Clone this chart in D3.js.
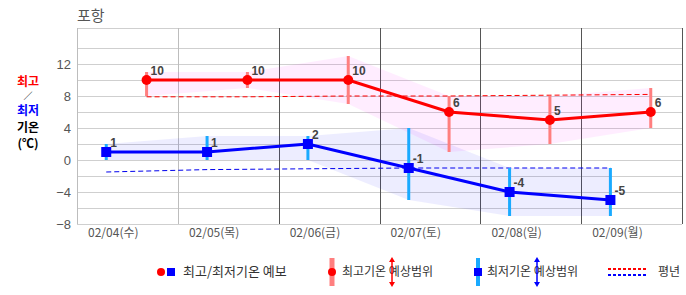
<!DOCTYPE html>
<html>
<head>
<meta charset="utf-8">
<script src="https://cdn.jsdelivr.net/npm/d3@7"></script>
<style>
  html, body { margin: 0; padding: 0; background: #fff; }
  svg { display: block; font-family: "Noto Sans CJK KR", "Noto Sans", sans-serif; }
</style>
</head>
<body>
<svg id="chart" width="686" height="295"></svg>
<script>
const dates = ["02/04(수)", "02/05(목)", "02/06(금)", "02/07(토)", "02/08(일)", "02/09(월)"];
const maxTemp = [10, 10, 10, 6, 5, 6];
const maxLow = [8, 9, 7, 1, 2, 4];
const maxHigh = [11, 11, 13, 8, 8, 9];
const minTemp = [1, 1, 2, -1, -4, -5];
const minLow = [0, 0, 0, -5, -7, -7];
const minHigh = [2, 3, 3, 4, -1, -1];
const maxNormal = [7.9, 7.9, 8, 8, 8.1, 8.2];
const minNormal = [-1.5, -1.2, -1.1, -1, -1, -1];
const yTicks = [-8, -4, 0, 4, 8, 12];

(() => {
    const margin = { top: 28, right: 4, bottom: 71, left: 77 };
    const width = 686, height = 295;
    const svg = d3.select("#chart");

    const x = d3.scaleBand().domain(dates).range([margin.left, width - margin.right]);
    const y = d3.scaleLinear().domain([-8, 16.5]).range([height - margin.bottom, margin.top]);
    const bw = x.bandwidth();
    const xMin = d => x(d) + bw * 0.29;   // 최저 위치
    const xMax = d => x(d) + bw * 0.69;   // 최고 위치

    const rows = dates.map((d, i) => ({
        date: d, max: maxTemp[i], maxLo: maxLow[i], maxHi: maxHigh[i],
        min: minTemp[i], minLo: minLow[i], minHi: minHigh[i],
        maxN: maxNormal[i], minN: minNormal[i]
    }));

    // 가로 격자
    svg.append("g").selectAll("line")
        .data(d3.range(-8, 16, 2).concat([16.5]))
        .join("line")
        .attr("x1", margin.left).attr("x2", width - margin.right)
        .attr("y1", d => Math.round(y(d)) + 0.5).attr("y2", d => Math.round(y(d)) + 0.5)
        .attr("stroke", "#cfcfcf");

    // 세로 격자
    const vlines = dates.map(d => x(d)).concat([width - margin.right]);
    svg.append("g").selectAll("line")
        .data(vlines)
        .join("line")
        .attr("x1", d => Math.round(d) + 0.5).attr("x2", d => Math.round(d) + 0.5)
        .attr("y1", margin.top).attr("y2", height - margin.bottom)
        .attr("stroke", (d, i) => i < 2 ? "#bdbdbd" : "#555");

    // y축 눈금
    svg.append("g")
        .attr("transform", `translate(${margin.left},0)`)
        .call(d3.axisLeft(y).tickValues(yTicks).tickSize(0).tickPadding(6)
            .tickFormat(d => d < 0 ? "\u2212" + Math.abs(d) : d))
        .call(g => g.select(".domain").remove())
        .selectAll("text")
        .attr("fill", "#555").style("font-size", "13px")
        .style("font-family", "'Liberation Sans', Arial, sans-serif");

    // x축 라벨
    svg.append("g").selectAll("text")
        .data(dates)
        .join("text")
        .attr("x", d => x(d) + bw * 0.36)
        .attr("y", 237)
        .attr("text-anchor", "middle")
        .attr("fill", "#555")
        .style("font-size", "12px")
        .text(d => d);

    // 예상범위 영역
    svg.append("path").datum(rows)
        .attr("fill", "#ff00ff").attr("fill-opacity", 0.07)
        .attr("d", d3.area().x(d => xMax(d.date)).y0(d => y(d.maxLo)).y1(d => y(d.maxHi)));
    svg.append("path").datum(rows)
        .attr("fill", "#0000ff").attr("fill-opacity", 0.07)
        .attr("d", d3.area().x(d => xMin(d.date)).y0(d => y(d.minLo)).y1(d => y(d.minHi)));

    // 평년
    svg.append("path").datum(rows)
        .attr("fill", "none").attr("stroke", "#ff0000").attr("stroke-width", 1)
        .attr("stroke-dasharray", "5,3")
        .attr("d", d3.line().x(d => xMax(d.date)).y(d => y(d.maxN)));
    svg.append("path").datum(rows)
        .attr("fill", "none").attr("stroke", "#0000ee").attr("stroke-width", 1)
        .attr("stroke-dasharray", "5,3")
        .attr("d", d3.line().x(d => xMin(d.date)).y(d => y(d.minN)));

    // 범위 막대
    svg.append("g").selectAll("line").data(rows).join("line")
        .attr("x1", d => xMax(d.date)).attr("x2", d => xMax(d.date))
        .attr("y1", d => y(d.maxLo)).attr("y2", d => y(d.maxHi))
        .attr("stroke", "#ff7f7f").attr("stroke-width", 3);
    svg.append("g").selectAll("line").data(rows).join("line")
        .attr("x1", d => xMin(d.date)).attr("x2", d => xMin(d.date))
        .attr("y1", d => y(d.minLo)).attr("y2", d => y(d.minHi))
        .attr("stroke", "#1aaaff").attr("stroke-width", 3);

    // 예보 선
    svg.append("path").datum(rows)
        .attr("fill", "none").attr("stroke", "#ff0000").attr("stroke-width", 3)
        .attr("d", d3.line().x(d => xMax(d.date)).y(d => y(d.max)));
    svg.append("path").datum(rows)
        .attr("fill", "none").attr("stroke", "#0000ff").attr("stroke-width", 3)
        .attr("d", d3.line().x(d => xMin(d.date)).y(d => y(d.min)));

    svg.append("g").selectAll("circle").data(rows).join("circle")
        .attr("cx", d => xMax(d.date)).attr("cy", d => y(d.max)).attr("r", 5)
        .attr("fill", "#ff0000");
    svg.append("g").selectAll("rect").data(rows).join("rect")
        .attr("x", d => xMin(d.date) - 5).attr("y", d => y(d.min) - 5)
        .attr("width", 10).attr("height", 10)
        .attr("fill", "#0000ff");

    // 값 라벨
    const lab = (acc, xf) => svg.append("g").selectAll("text").data(rows).join("text")
        .attr("x", d => xf(d.date) + 4).attr("y", d => y(acc(d)) - 5)
        .attr("fill", "#444").style("font-size", "12px").style("font-weight", "bold")
        .style("font-family", "'Liberation Sans', Arial, sans-serif")
        .text(d => acc(d));
    lab(d => d.max, xMax);
    lab(d => d.min, xMin);

    // 제목
    svg.append("text").attr("x", 77).attr("y", 21)
        .attr("fill", "#555").style("font-size", "15px").text("포항");

    // 세로 제목
    const ttl = [["최고", "#ff0000", 86, 12], ["／", "#000", 99, 9], ["최저", "#0000ff", 115, 12], ["기온", "#000", 132, 12], ["(℃)", "#000", 148, 12]];
    svg.append("g").selectAll("text").data(ttl).join("text")
        .attr("x", 28).attr("y", d => d[2])
        .attr("text-anchor", "middle")
        .attr("fill", d => d[1])
        .style("font-size", d => d[3] + "px").style("font-weight", "bold")
        .style("font-family", "'Noto Sans CJK KR', sans-serif")
        .style("line-height", 1)
        .text(d => d[0]);

    // 범례
    const leg = svg.append("g").style("font-size", "12px").attr("fill", "#333");
    const ly = 272;
    leg.append("circle").attr("cx", 161).attr("cy", ly).attr("r", 4).attr("fill", "#ff0000");
    leg.append("rect").attr("x", 167).attr("y", ly - 4).attr("width", 8).attr("height", 8).attr("fill", "#0000ff");
    leg.append("text").attr("x", 183).attr("y", ly + 4).style("font-size", "13px").text("최고/최저기온 예보");

    leg.append("line").attr("x1", 332).attr("x2", 332).attr("y1", 258).attr("y2", 286)
        .attr("stroke", "#ff7f7f").attr("stroke-width", 5);
    leg.append("circle").attr("cx", 332).attr("cy", ly).attr("r", 4).attr("fill", "#ff0000");
    leg.append("text").attr("x", 342).attr("y", ly + 4).text("최고기온 예상범위");

    leg.append("line").attr("x1", 478).attr("x2", 478).attr("y1", 258).attr("y2", 286)
        .attr("stroke", "#1aaaff").attr("stroke-width", 4);
    leg.append("rect").attr("x", 474).attr("y", ly - 4).attr("width", 8).attr("height", 8).attr("fill", "#0000ff");
    leg.append("text").attr("x", 487).attr("y", ly + 4).text("최저기온 예상범위");

    const arrow = (ax, col) => {
        const g = leg.append("g");
        g.append("line").attr("x1", ax).attr("x2", ax).attr("y1", 260).attr("y2", 284)
            .attr("stroke", col).attr("stroke-width", 1.5);
        g.append("path").attr("d", `M${ax - 3},${262} L${ax},${257} L${ax + 3},${262} Z`).attr("fill", col);
        g.append("path").attr("d", `M${ax - 3},${282} L${ax},${287} L${ax + 3},${282} Z`).attr("fill", col);
    };
    arrow(392, "#ff0000");
    arrow(537, "#0000ff");

    leg.append("line").attr("x1", 608).attr("x2", 647).attr("y1", 269).attr("y2", 269)
        .attr("stroke", "#ff0000").attr("stroke-width", 2).attr("stroke-dasharray", "3,2");
    leg.append("line").attr("x1", 608).attr("x2", 647).attr("y1", 275).attr("y2", 275)
        .attr("stroke", "#0000ff").attr("stroke-width", 2).attr("stroke-dasharray", "3,2");
    leg.append("text").attr("x", 658).attr("y", ly + 4).text("평년");
})();
</script>
</body>
</html>
